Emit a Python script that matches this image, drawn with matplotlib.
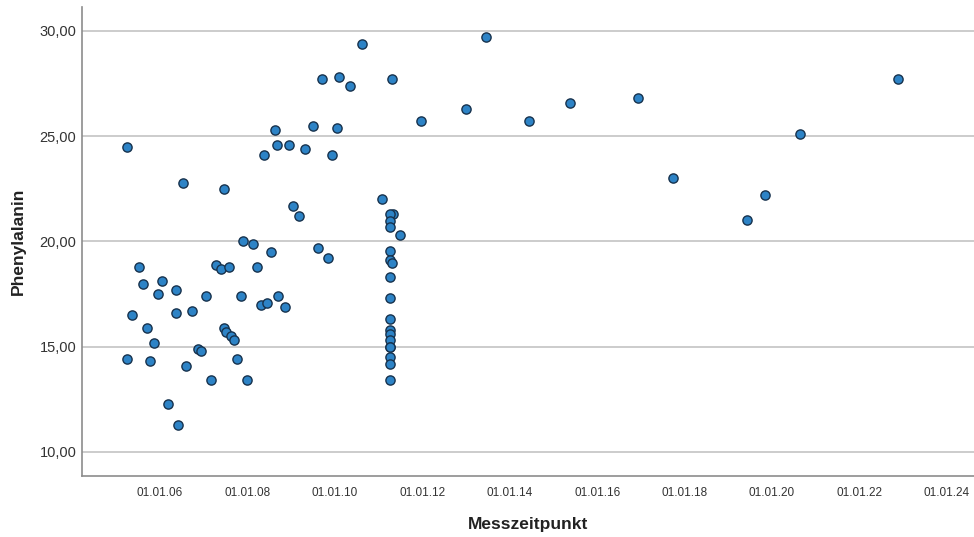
import pandas as pd
import numpy as np
import matplotlib
matplotlib.use("Agg")
from matplotlib import pyplot as plt
import matplotlib.dates as mdates

plt.rcParams['font.family'] = ['Liberation Sans', 'DejaVu Sans']

# Messzeitpunkte und Phenylalanin-Werte
datum = ["2005-04-01", "2005-04-01", "2005-05-12", "2005-07-09", "2005-08-12",
         "2005-09-15", "2005-10-10", "2005-11-12", "2005-12-15", "2006-01-18",
         "2006-03-07", "2006-05-14", "2006-05-14", "2006-05-31", "2006-07-11",
         "2006-08-05", "2006-09-24", "2006-11-13", "2006-12-08", "2007-01-19",
         "2007-03-02", "2007-04-13", "2007-05-25", "2007-06-19", "2007-06-19",
         "2007-07-05", "2007-07-30", "2007-08-16", "2007-09-10", "2007-10-05",
         "2007-11-07", "2007-11-24", "2007-12-28", "2008-02-15", "2008-03-20",
         "2008-04-23", "2008-05-18", "2008-06-12", "2008-07-15", "2008-08-18",
         "2008-09-04", "2008-09-12", "2008-11-09", "2008-12-13", "2009-01-15",
         "2009-03-06", "2009-04-25", "2009-07-01", "2009-08-12", "2009-09-15",
         "2009-11-03", "2009-12-07", "2010-01-17", "2010-02-03", "2010-05-05",
         "2010-08-13", "2011-01-27", "2011-04-21", "2011-12-19", "2012-12-29",
         "2013-06-14", "2014-06-08", "2015-05-16", "2016-12-04", "2017-09-23",
         "2019-06-02", "2019-10-30", "2020-08-25", "2022-11-21"]
phe = [24.5, 14.4, 16.5, 18.8, 18.0,
       15.9, 14.3, 15.2, 17.5, 18.1,
       12.3, 17.7, 16.6, 11.3, 22.8,
       14.1, 16.7, 14.9, 14.8, 17.4,
       13.4, 18.9, 18.7, 22.5, 15.9,
       15.7, 18.8, 15.5, 15.3, 14.4,
       17.4, 20.0, 13.4, 19.9, 18.8,
       17.0, 24.1, 17.1, 19.5, 25.3,
       24.6, 17.4, 16.9, 24.6, 21.7,
       21.2, 24.4, 25.5, 19.7, 27.7,
       19.2, 24.1, 25.4, 27.8, 27.4,
       29.4, 22.0, 27.7, 25.7, 26.3,
       29.7, 25.7, 26.6, 26.8, 23.0,
       21.0, 22.2, 25.1, 27.7]

# Messungen im April 2011 (senkrechte Häufung)
datum_2011 = ["2011-04-30", "2011-04-04", "2011-04-04", "2011-04-04", "2011-06-27",
              "2011-04-04", "2011-04-04", "2011-04-26", "2011-04-04", "2011-04-04",
              "2011-04-04", "2011-04-04", "2011-04-04", "2011-04-04", "2011-04-04",
              "2011-04-06", "2011-04-04", "2011-04-04", "2011-04-04"]
phe_2011 = [21.3, 21.3, 20.95, 20.7, 20.3,
            19.55, 19.1, 18.97, 18.3, 17.3,
            16.3, 15.8, 15.6, 15.3, 15.0,
            15.0, 14.5, 14.2, 13.4]

df = pd.DataFrame({"Messzeitpunkt": pd.to_datetime(datum + datum_2011),
                   "Phenylalanin": phe + phe_2011})

fig = plt.figure(figsize=(9.74, 5.37), dpi=100)
ax = fig.add_axes([0.0842, 0.1136, 0.9158, 0.8734])

ax.scatter(df["Messzeitpunkt"], df["Phenylalanin"], s=44, color="#2d83c6",
           edgecolors="#17324d", linewidths=1.0, zorder=3)

ax.set_xlim(pd.Timestamp("2004-03-21"), pd.Timestamp("2024-08-14"))
ax.set_ylim(8.86, 31.14)
ax.set_yticks([10, 15, 20, 25, 30])
ax.set_yticklabels(["10,00", "15,00", "20,00", "25,00", "30,00"])
ax.xaxis.set_major_locator(mdates.YearLocator(2))
ax.xaxis.set_major_formatter(mdates.DateFormatter("%d.%m.%y"))

ax.grid(axis="y", color="#c8c8c8", linewidth=1.3, zorder=0)
ax.tick_params(axis="both", length=0, colors="#333333")
ax.tick_params(axis="y", labelsize=10.5, pad=4)
ax.tick_params(axis="x", labelsize=8.5, pad=8)
for s in ["top", "right"]:
    ax.spines[s].set_visible(False)
for s in ["left", "bottom"]:
    ax.spines[s].set_color("#8c8c8c")
    ax.spines[s].set_linewidth(1.2)

ax.set_xlabel("Messzeitpunkt", fontsize=12.5, fontweight="bold", labelpad=13, color="#222222")
ax.set_ylabel("Phenylalanin", fontsize=12.5, fontweight="bold", labelpad=10, color="#222222")

fig.savefig("out.png", dpi=100)
